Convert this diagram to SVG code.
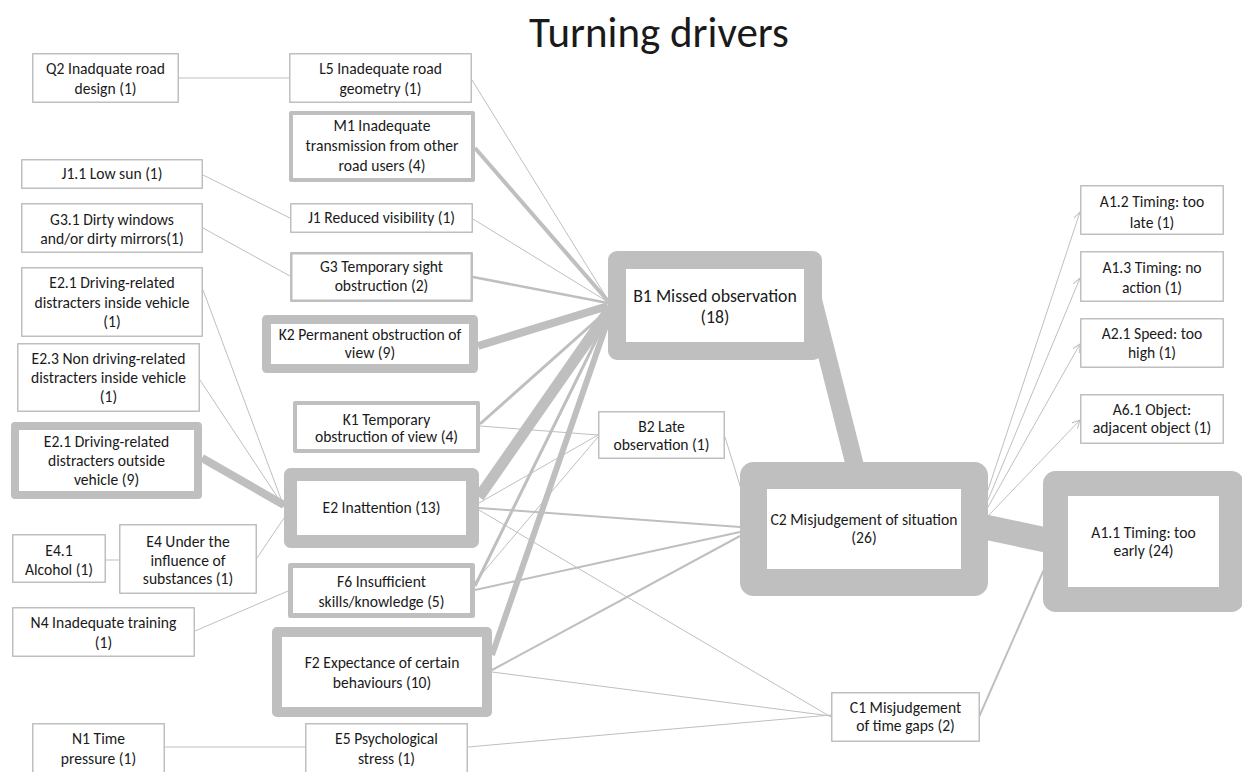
<svg xmlns="http://www.w3.org/2000/svg" width="1242" height="772" viewBox="0 0 1242 772">
<style>
  .bx { fill: #ffffff; stroke: #bfbfbf; stroke-linejoin: round; }
  .t { font-family: Carlito, Lato, "Liberation Sans", sans-serif; font-size: 15.6px; fill: #1a1a1a; text-anchor: middle; }
  .tb { font-size: 17.8px; }
  .title { font-family: Carlito, Lato, "Liberation Sans", sans-serif; font-size: 43px; fill: #1a1a1a; text-anchor: middle; }
  .c { stroke: #bfbfbf; fill: none; stroke-width: 1; }
</style>
<defs>
  <marker id="arr" markerWidth="10" markerHeight="10" refX="8" refY="4" orient="auto" markerUnits="userSpaceOnUse">
    <path d="M0,0 L8,4 L0,8" fill="none" stroke="#bfbfbf" stroke-width="1"/>
  </marker>
</defs>
<rect width="1242" height="772" fill="#ffffff"/>
<text class="title" x="659" y="47">Turning drivers</text>

<g id="connectors">
  <line class="c" x1="179" y1="78" x2="289" y2="78"/>
  <line class="c" x1="472" y1="80" x2="608" y2="300"/>
  <line class="c" x1="475" y1="148" x2="608" y2="301" style="stroke-width:4"/>
  <line class="c" x1="203" y1="175" x2="290" y2="218"/>
  <line class="c" x1="473" y1="219" x2="608" y2="302"/>
  <line class="c" x1="203" y1="228" x2="290" y2="276"/>
  <line class="c" x1="473" y1="277" x2="608" y2="303" style="stroke-width:2.5"/>
  <line class="c" x1="478" y1="346" x2="608" y2="306" style="stroke-width:8"/>
  <line class="c" x1="480" y1="424" x2="608" y2="310" style="stroke-width:3"/>
  <line class="c" x1="480" y1="426" x2="598" y2="435"/>
  <line class="c" x1="479" y1="497" x2="608" y2="312" style="stroke-width:11"/>
  <line class="c" x1="479" y1="503" x2="598" y2="435"/>
  <line class="c" x1="479" y1="508" x2="740" y2="527" style="stroke-width:2"/>
  <line class="c" x1="479" y1="510" x2="831" y2="717"/>
  <line class="c" x1="203" y1="290" x2="284" y2="507"/>
  <line class="c" x1="200" y1="380" x2="284" y2="507"/>
  <line class="c" x1="202" y1="458" x2="284" y2="505" style="stroke-width:8"/>
  <line class="c" x1="257" y1="558" x2="284" y2="518"/>
  <line class="c" x1="106" y1="560" x2="119" y2="560"/>
  <line class="c" x1="195" y1="631" x2="288" y2="591"/>
  <line class="c" x1="475" y1="586" x2="608" y2="316" style="stroke-width:3"/>
  <line class="c" x1="475" y1="582" x2="598" y2="437"/>
  <line class="c" x1="475" y1="590" x2="740" y2="532" style="stroke-width:2"/>
  <line class="c" x1="492" y1="655" x2="608" y2="320" style="stroke-width:6"/>
  <line class="c" x1="492" y1="670" x2="740" y2="536" style="stroke-width:2"/>
  <line class="c" x1="492" y1="672" x2="831" y2="716"/>
  <line class="c" x1="468" y1="747" x2="831" y2="715"/>
  <line class="c" x1="165" y1="747" x2="305" y2="747"/>
  <line class="c" x1="725" y1="437" x2="742" y2="492"/>
  <line class="c" x1="813" y1="300" x2="856" y2="470" style="stroke-width:18"/>
  <line class="c" x1="985" y1="527" x2="1046" y2="540" style="stroke-width:25"/>
  <line class="c" x1="979" y1="717" x2="1045" y2="567" style="stroke-width:2"/>
  <line class="c" x1="987" y1="493" x2="1080" y2="212" marker-end="url(#arr)"/>
  <line class="c" x1="988" y1="500" x2="1080" y2="278" marker-end="url(#arr)"/>
  <line class="c" x1="988" y1="507" x2="1080" y2="344" marker-end="url(#arr)"/>
  <line class="c" x1="989" y1="515" x2="1080" y2="420" marker-end="url(#arr)"/>
</g>

<g id="Q2"><rect class="bx" x="32.75" y="53.75" width="145.5" height="48.5" stroke-width="1.5"/>
<text class="t" x="105.5" y="74">Q2 Inadquate road</text><text class="t" x="105.5" y="94">design (1)</text></g>
<g id="L5"><rect class="bx" x="289.75" y="53.75" width="181.5" height="48.5" stroke-width="1.5"/>
<text class="t" x="380.5" y="74">L5 Inadequate road</text><text class="t" x="380.5" y="94">geometry (1)</text></g>
<g id="M1"><rect class="bx" x="291" y="113" width="182" height="67" stroke-width="4"/>
<text class="t" x="382" y="131">M1 Inadequate</text><text class="t" x="382" y="151">transmission from other</text><text class="t" x="382" y="171">road users (4)</text></g>
<g id="J1_1"><rect class="bx" x="21.75" y="159.75" width="180.5" height="28.5" stroke-width="1.5"/>
<text class="t" x="112" y="179">J1.1 Low sun (1)</text></g>
<g id="G3_1"><rect class="bx" x="21.75" y="203.75" width="180.5" height="48.5" stroke-width="1.5"/>
<text class="t" x="112" y="225">G3.1 Dirty windows</text><text class="t" x="112" y="244">and/or dirty mirrors(1)</text></g>
<g id="J1"><rect class="bx" x="290.75" y="203.75" width="181.5" height="28.5" stroke-width="1.5"/>
<text class="t" x="381.5" y="223">J1 Reduced visibility (1)</text></g>
<g id="G3"><rect class="bx" x="291.25" y="253.25" width="180.5" height="47.5" stroke-width="2.5"/>
<text class="t" x="381.5" y="272">G3 Temporary sight</text><text class="t" x="381.5" y="291">obstruction (2)</text></g>
<g id="E2_1_inside"><rect class="bx" x="21.75" y="267.75" width="180.5" height="68.5" stroke-width="1.5"/>
<text class="t" x="112" y="288">E2.1 Driving-related</text><text class="t" x="112" y="308">distracters inside vehicle</text><text class="t" x="112" y="327">(1)</text></g>
<g id="E2_3"><rect class="bx" x="17.75" y="343.75" width="181.5" height="67.5" stroke-width="1.5"/>
<text class="t" x="108.5" y="364">E2.3 Non driving-related</text><text class="t" x="108.5" y="383">distracters inside vehicle</text><text class="t" x="108.5" y="402">(1)</text></g>
<g id="E2_1_outside"><rect class="bx" x="15" y="426" width="183" height="69" stroke-width="8"/>
<text class="t" x="106.5" y="447">E2.1 Driving-related</text><text class="t" x="106.5" y="466">distracters outside</text><text class="t" x="106.5" y="485">vehicle (9)</text></g>
<g id="K2"><rect class="bx" x="266.5" y="319.5" width="207" height="49" stroke-width="9"/>
<text class="t" x="370" y="340">K2 Permanent obstruction of</text><text class="t" x="370" y="358">view (9)</text></g>
<g id="K1"><rect class="bx" x="295" y="403" width="183" height="48" stroke-width="4"/>
<text class="t" x="386.5" y="425">K1 Temporary</text><text class="t" x="386.5" y="442">obstruction of view (4)</text></g>
<g id="E2"><rect class="bx" x="290.5" y="474.5" width="182" height="67" stroke-width="13"/>
<text class="t" x="381.5" y="513">E2 Inattention (13)</text></g>
<g id="E4_1"><rect class="bx" x="12.75" y="534.75" width="92.5" height="47.5" stroke-width="1.5"/>
<text class="t" x="59" y="556">E4.1</text><text class="t" x="59" y="575">Alcohol (1)</text></g>
<g id="E4"><rect class="bx" x="119.75" y="524.75" width="136.5" height="68.5" stroke-width="1.5"/>
<text class="t" x="188" y="547">E4 Under the</text><text class="t" x="188" y="566">influence of</text><text class="t" x="188" y="584">substances (1)</text></g>
<g id="N4"><rect class="bx" x="12.75" y="607.75" width="181.5" height="48.5" stroke-width="1.5"/>
<text class="t" x="103.5" y="628">N4 Inadequate training</text><text class="t" x="103.5" y="648">(1)</text></g>
<g id="F6"><rect class="bx" x="290.5" y="565.5" width="182" height="50" stroke-width="5"/>
<text class="t" x="381.5" y="587">F6 Insufficient</text><text class="t" x="381.5" y="607">skills/knowledge (5)</text></g>
<g id="F2"><rect class="bx" x="277" y="632" width="210" height="80" stroke-width="10"/>
<text class="t" x="382" y="668">F2 Expectance of certain</text><text class="t" x="382" y="688">behaviours (10)</text></g>
<g id="N1"><rect class="bx" x="32.75" y="723.75" width="131.5" height="60" stroke-width="1.5"/>
<text class="t" x="98.5" y="744">N1 Time</text><text class="t" x="98.5" y="764">pressure (1)</text></g>
<g id="E5"><rect class="bx" x="305.75" y="723.75" width="161.5" height="60" stroke-width="1.5"/>
<text class="t" x="386.5" y="744">E5 Psychological</text><text class="t" x="386.5" y="764">stress (1)</text></g>
<g id="B2"><rect class="bx" x="598.75" y="411.75" width="125.5" height="46.5" stroke-width="1.5"/>
<text class="t" x="661.5" y="432">B2 Late</text><text class="t" x="661.5" y="450">observation (1)</text></g>
<g id="B1"><rect class="bx" x="617" y="260" width="196" height="91" stroke-width="18"/>
<text class="t tb" x="715" y="302">B1 Missed observation</text><text class="t tb" x="715" y="323">(18)</text></g>
<g id="C2"><rect class="bx" x="753.5" y="475.5" width="221" height="107" stroke-width="27"/>
<text class="t" x="864" y="525">C2 Misjudgement of situation</text><text class="t" x="864" y="543">(26)</text></g>
<g id="A1_1"><rect class="bx" x="1055.5" y="483.5" width="176" height="116" stroke-width="25"/>
<text class="t" x="1143.5" y="538">A1.1 Timing: too</text><text class="t" x="1143.5" y="556">early (24)</text></g>
<g id="C1"><rect class="bx" x="831.75" y="692.75" width="147.5" height="48.5" stroke-width="1.5"/>
<text class="t" x="905.5" y="713">C1 Misjudgement</text><text class="t" x="905.5" y="731">of time gaps (2)</text></g>
<g id="A1_2"><rect class="bx" x="1080.75" y="185.75" width="142.5" height="48.5" stroke-width="1.5"/>
<text class="t" x="1152" y="207">A1.2 Timing: too</text><text class="t" x="1152" y="228">late (1)</text></g>
<g id="A1_3"><rect class="bx" x="1080.75" y="251.75" width="142.5" height="49.5" stroke-width="1.5"/>
<text class="t" x="1152" y="273">A1.3 Timing: no</text><text class="t" x="1152" y="293">action (1)</text></g>
<g id="A2_1"><rect class="bx" x="1080.75" y="318.75" width="142.5" height="48.5" stroke-width="1.5"/>
<text class="t" x="1152" y="339">A2.1 Speed: too</text><text class="t" x="1152" y="358">high (1)</text></g>
<g id="A6_1"><rect class="bx" x="1080.75" y="394.75" width="142.5" height="48.5" stroke-width="1.5"/>
<text class="t" x="1152" y="415">A6.1 Object:</text><text class="t" x="1152" y="433">adjacent object (1)</text></g>
</svg>
